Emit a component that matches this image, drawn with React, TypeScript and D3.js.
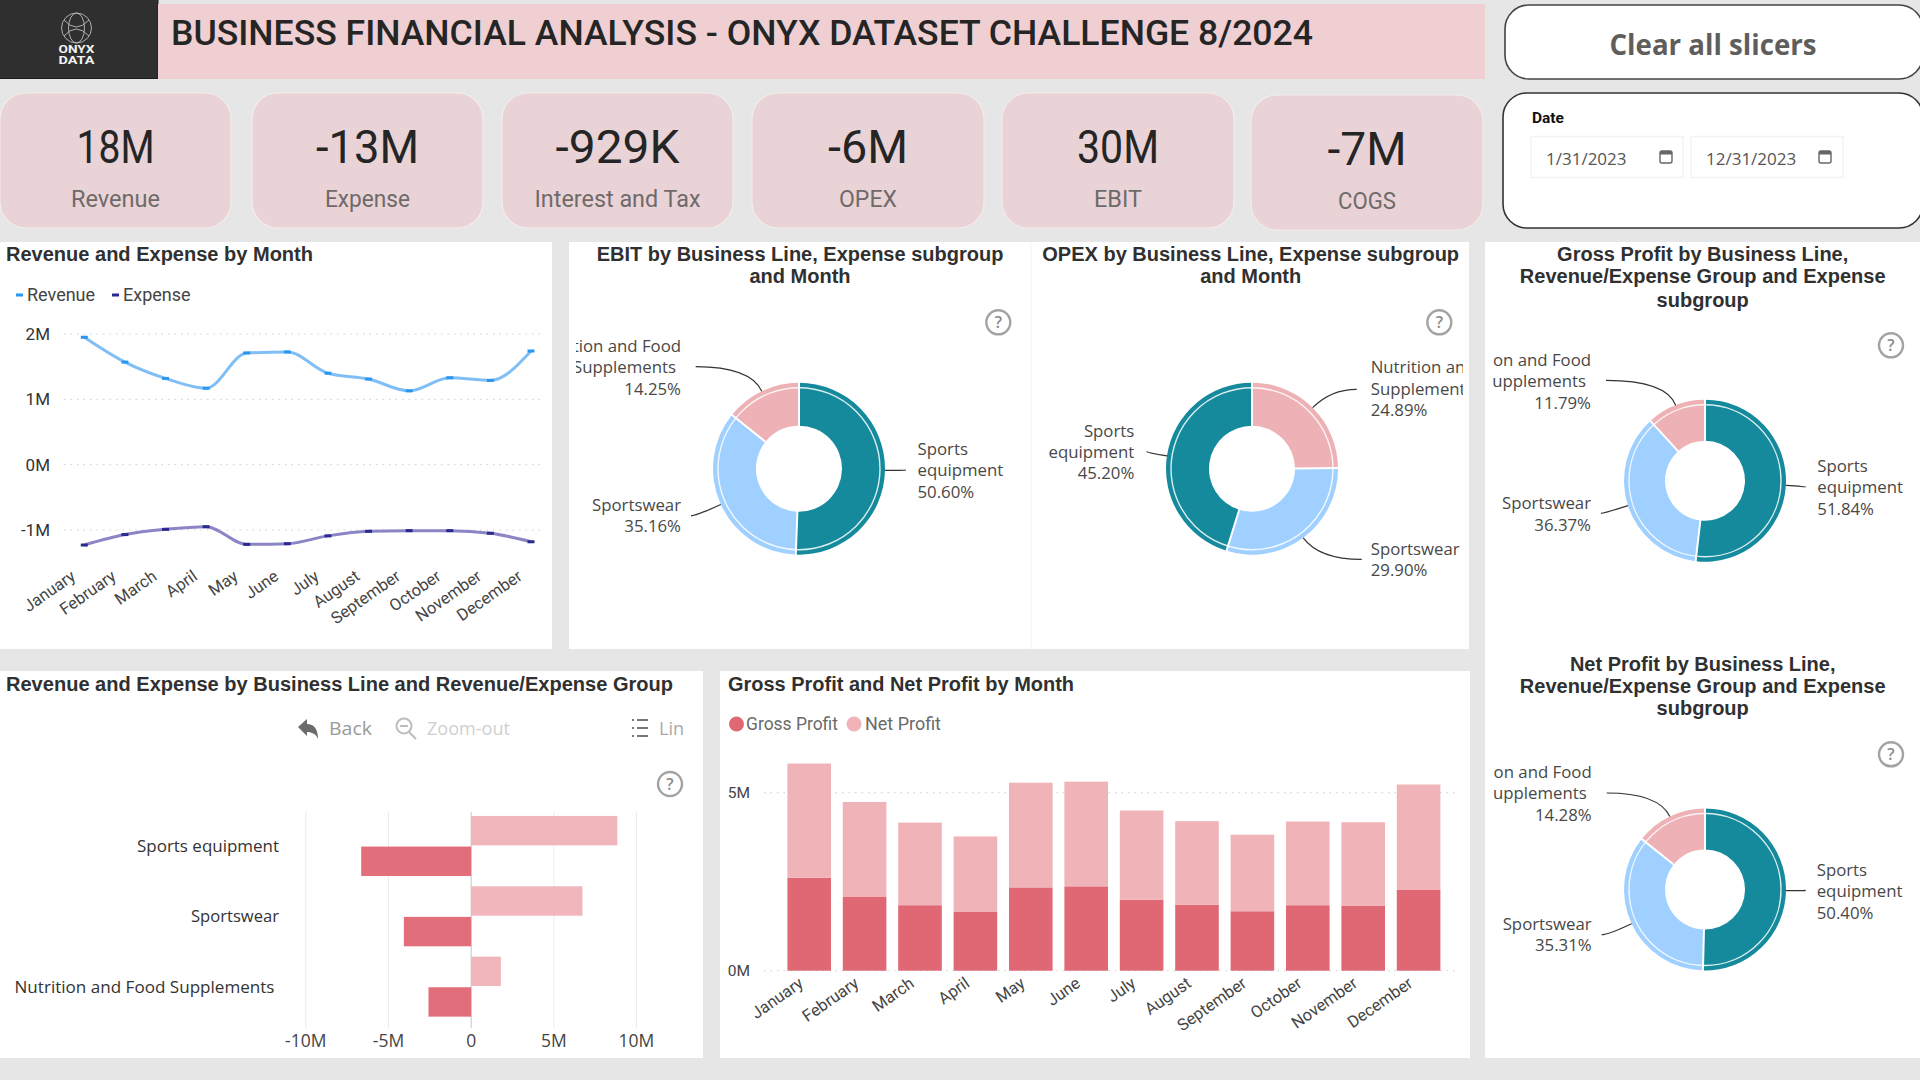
import React from "react";
import * as d3 from "d3";

const months = ["January","February","March","April","May","June","July","August","September","October","November","December"];
const revenueByMonth = [1.95,1.57,1.32,1.17,1.71,1.725,1.40,1.31,1.13,1.33,1.29,1.74];
const expenseByMonth = [-1.23,-1.07,-0.99,-0.95,-1.22,-1.21,-1.09,-1.02,-1.01,-1.01,-1.05,-1.18];
const lineTicks = [2,1,0,-1];

const grossByMonth = [2.61,2.07,1.84,1.65,2.34,2.37,1.99,1.85,1.67,1.84,1.82,2.28];
const netByMonth = [3.21,2.67,2.32,2.12,2.94,2.94,2.51,2.35,2.15,2.35,2.35,2.95];
const profitTicks = [0,5];

const businessLines = ["Sports equipment","Sportswear","Nutrition and Food Supplements"];
const revenueByLine = [8.84,6.73,1.80];
const expenseByLine = [-6.65,-4.07,-2.58];
const lineBarTicks = [-10,-5,0,5,10];
const lineBarTickLabels = ["-10M","-5M","0","5M","10M"];

const ebitShares = [50.60,35.16,14.25];
const opexShares = [24.89,29.90,45.20];
const grossShares = [51.84,36.37,11.79];
const netShares = [50.40,35.31,14.28];

const kpiValues = ["18M","-13M","-929K","-6M","30M","-7M"];
const kpiLabels = ["Revenue","Expense","Interest and Tax","OPEX","EBIT","COGS"];

const TEAL = "#148a9c", BLUE = "#a0d0ff", PINK = "#edb1b6", RED = "#e06875", LPINK = "#efb3b8";
const DIN = "Roboto, sans-serif";
const SEGOE = "'Open Sans', sans-serif";
const ARIAL = "'Liberation Sans', Arial, sans-serif";
const lineColor: Record<string,string> = {"Sports equipment":TEAL,"Sportswear":BLUE,"Nutrition and Food Supplements":PINK};
const wrapped: Record<string,string[]> = {"Sports equipment":["Sports","equipment"],"Sportswear":["Sportswear"],"Nutrition and Food Supplements":["Nutrition and Food","Supplements"]};

function T({x,y,text,size=17,family=SEGOE,weight=400,fill="#444",anchor="start",len,rotate}:any){
  const extra:any = len ? {textLength:len,lengthAdjust:"spacingAndGlyphs"} : {};
  return <text x={x} y={y} dy=".35em" fontSize={size} fontFamily={family} fontWeight={weight} fill={fill} textAnchor={anchor}
    transform={rotate?`rotate(${rotate} ${x} ${y})`:undefined} {...extra}>{text}</text>;
}

function Help({x,y}:any){
  return <g><circle cx={x} cy={y} r={12} fill="none" stroke="#a3a3a3" strokeWidth={2.4}/>
    <T x={x} y={y} text="?" size={16} family={SEGOE} weight={600} fill="#8a8a8a" anchor="middle"/></g>;
}

function Donut({id,title,titleX,titleYs,shares,order,cx,cy,R,r,clip,labels,help}:any){
  const pie = d3.pie<number>().sort(null).value((d:number)=>d);
  const arcs = pie(shares);
  const arc = d3.arc<any>().innerRadius(r).outerRadius(R);
  return <g>
    {title.map((t:string,i:number)=><T key={t} x={titleX} y={titleYs[i]} text={t} size={20} family={ARIAL} weight={700} fill="#303030" anchor="middle"/>)}
    <Help x={help[0]} y={help[1]}/>
    <g transform={`translate(${cx},${cy})`}>
      {arcs.map((a:any,i:number)=><path key={i} d={arc(a)||""} fill={lineColor[order[i]]}/>)}
      <circle r={R-5} fill="none" stroke="#fff" strokeOpacity={0.85} strokeWidth={1.4}/>
      {arcs.map((a:any,i:number)=>{const p=d3.pointRadial(a.startAngle,R+1);const q=d3.pointRadial(a.startAngle,r-1);
        return <line key={i} x1={q[0]} y1={q[1]} x2={p[0]} y2={p[1]} stroke="#fff" strokeWidth={2}/>;})}
    </g>
    <clipPath id={id}><rect x={clip[0]} y={clip[1]} width={clip[2]} height={clip[3]}/></clipPath>
    <g clipPath={`url(#${id})`}>
      {arcs.map((a:any,i:number)=>{
        const L = labels[i];
        const name = order[i];
        const textLines = [...wrapped[name], shares[i].toFixed(2)+"%"];
        const mid = (a.startAngle+a.endAngle)/2;
        const [ux,uy] = d3.pointRadial(mid,1);
        const ex = cx+ux*R, ey = cy+uy*R;
        const t = Math.min(Math.abs(uy)>0.001?Math.abs((L.sy-ey)/uy):0, Math.abs(L.sx-ex));
        const p = d3.path(); p.moveTo(L.sx,L.sy); p.quadraticCurveTo(ex+ux*t,ey+uy*t,ex,ey);
        return <g key={i}>
          <path d={p.toString()} fill="none" stroke="#333" strokeWidth={1.2}/>
          {textLines.map((s:string,j:number)=><T key={j} x={L.x-(L.anchor==="end"&&s==="Supplements"?5:0)} y={L.y+j*21.4} text={s} size={16.8} anchor={L.anchor} fill="#484848"/>)}
        </g>;
      })}
    </g>
  </g>;
}

export default function App(){
  const W=1920,H=1080;
  const cards=[[0,93,231,135],[252,93,231,135],[502,93,231,135],[752,93,232,135],[1002,93,232,135],[1251,95,232,135]];
  const kpiLens=[78,103,124,80,82,79];
  const kpiLabelLens=[89,85,166,58,48,58];
  const xL=d3.scalePoint<string>().domain(months).range([84.3,531]);
  const yL=d3.scaleLinear().domain([-1,2]).range([530,334]);
  const lineGen=d3.line<number>().x((_,i)=>xL(months[i]) as number).y(d=>yL(d)).curve(d3.curveMonotoneX);
  const xB=d3.scaleLinear().domain([-10,10]).range([305.8,636.5]);
  const yB=d3.scaleBand<string>().domain(businessLines).range([811,1021.6]).paddingInner(.112).paddingOuter(.053);
  const yBi=d3.scaleBand<string>().domain(["Revenue","Expense"]).range([0,yB.bandwidth()]).padding(.04);
  const xS=d3.scaleBand<string>().domain(months).range([781.5,1446.3]).paddingInner(.213).paddingOuter(.1065);
  const yS=d3.scaleLinear().domain([0,5]).range([970.7,792.7]);
  const stackRows=months.map((m,i)=>({m,gross:grossByMonth[i],net:netByMonth[i]}));
  const stacked=d3.stack<any>().keys(["gross","net"])(stackRows);
  const stackColor:Record<string,string>={gross:RED,net:LPINK};

  const [SE,SW,NF]=businessLines;
  const donuts=[
   {id:"c1",title:["EBIT by Business Line, Expense subgroup","and Month"],titleX:800,titleYs:[254,276],shares:ebitShares,order:[SE,SW,NF],cx:799,cy:468.7,R:86,r:43,clip:[576,300,460,340],help:[998.3,322.3],
    labels:[{x:917.5,y:449,anchor:"start",sx:906,sy:470},{x:681,y:505,anchor:"end",sx:691,sy:515.7},{x:681,y:346,anchor:"end",sx:695.7,sy:366.7}]},
   {id:"c2",title:["OPEX by Business Line, Expense subgroup","and Month"],titleX:1250.7,titleYs:[254,276],shares:opexShares,order:[NF,SW,SE],cx:1252,cy:468.7,R:86,r:43,clip:[1040,300,423,340],help:[1439.3,322.3],
    labels:[{x:1370.7,y:367.3,anchor:"start",sx:1356.7,sy:389.3},{x:1370.7,y:548.7,anchor:"start",sx:1361.7,sy:559.3},{x:1134.3,y:430.7,anchor:"end",sx:1146.7,sy:451.3}]},
   {id:"c3",title:["Gross Profit by Business Line,","Revenue/Expense Group and Expense","subgroup"],titleX:1702.7,titleYs:[254,276,300],shares:grossShares,order:[SE,SW,NF],cx:1705,cy:480.7,R:81,r:40,clip:[1493,330,420,300],help:[1891,345.3],
    labels:[{x:1817.3,y:466,anchor:"start",sx:1806,sy:487},{x:1591,y:503.3,anchor:"end",sx:1601,sy:513.3},{x:1591,y:360,anchor:"end",sx:1606,sy:380.3}]},
   {id:"c4",title:["Net Profit by Business Line,","Revenue/Expense Group and Expense","subgroup"],titleX:1702.7,titleYs:[663.7,686,708],shares:netShares,order:[SE,SW,NF],cx:1705,cy:889.5,R:81,r:40,clip:[1493,740,420,300],help:[1891,754.3],
    labels:[{x:1816.7,y:870,anchor:"start",sx:1805.7,sy:890.3},{x:1591.7,y:924,anchor:"end",sx:1601.7,sy:934.7},{x:1591.7,y:772,anchor:"end",sx:1606.7,sy:793}]},
  ];

  return <svg width={W} height={H} viewBox={`0 0 ${W} ${H}`} style={{position:"fixed",left:0,top:0,display:"block"}}>
    <rect width={W} height={H} fill="#e6e6e6"/>
    <rect x={0} y={0} width={158} height={79} fill="#2f2f2f"/>
    <path d="M0 78.5H158V0" fill="none" stroke="#1c1c1c" strokeWidth={1}/>
    <g fill="none" stroke="#bdbdbd" strokeWidth={0.9}>
      <circle cx={76.5} cy={28} r={15}/>
      <ellipse cx={76.5} cy={28} rx={8} ry={15}/>
      <path d="M64 20Q76 34 89 20M64 36Q76 22 89 36"/>
    </g>
    <T x={76.5} y={49.5} text="ONYX" size={10.5} family={DIN} weight={700} fill="#f2f2f2" anchor="middle" len={36}/>
    <T x={76.5} y={60.5} text="DATA" size={10.5} family={DIN} weight={700} fill="#f2f2f2" anchor="middle" len={36}/>
    <rect x={158} y={4} width={1327} height={75} fill="#efcfd2"/>
    <T x={171} y={33} text="BUSINESS FINANCIAL ANALYSIS - ONYX DATASET CHALLENGE 8/2024" size={35} family={DIN} weight={500} fill="#252525" len={1142}/>
    <rect x={1505} y={5} width={418} height={74} rx={24} fill="#fff" stroke="#444" strokeWidth={1.6}/>
    <T x={1713} y={45} text="Clear all slicers" size={28} family={SEGOE} weight={700} fill="#605e5c" anchor="middle" len={207}/>
    <rect x={1503} y={93} width={420} height={135} rx={24} fill="#fff" stroke="#333" strokeWidth={1.6}/>
    <T x={1532} y={118} text="Date" size={15.5} family={DIN} weight={700} fill="#111"/>
    {[[1531,"1/31/2023",1546,1666],[1691,"12/31/2023",1706,1825]].map((d:any)=><g key={d[0]}>
      <rect x={d[0]} y={136.5} width={152} height={41} fill="#fff" stroke="#f3f3f3" strokeWidth={1.5}/>
      <T x={d[2]} y={159} text={d[1]} size={17} fill="#555"/>
      <rect x={d[3]-6} y={151} width={12} height={12} rx={2} fill="#fff" stroke="#666" strokeWidth={1.4}/>
      <rect x={d[3]-6} y={151} width={12} height={3.5} fill="#666"/>
    </g>)}
    {cards.map((c,i)=><g key={i}>
      <rect x={c[0]} y={c[1]} width={c[2]} height={c[3]} rx={26} fill="#e9d3d6" stroke="#f4ecec" strokeWidth={1.2}/>
      <T x={c[0]+c[2]/2} y={c[1]+54} text={kpiValues[i]} size={46} family={DIN} fill="#252525" anchor="middle" len={kpiLens[i]}/>
      <T x={c[0]+c[2]/2} y={c[1]+106} text={kpiLabels[i]} size={23} family={DIN} fill="#6f6a6a" anchor="middle" len={kpiLabelLens[i]}/>
    </g>)}
    <rect x={0} y={242} width={552} height={407} fill="#fff"/>
    <rect x={569} y={242} width={900} height={407} fill="#fff"/>
    <line x1={1031} x2={1031} y1={242} y2={649} stroke="#f3f3f3"/>
    <rect x={1485} y={242} width={435} height={816} fill="#fff"/>
    <rect x={0} y={671} width={703} height={387} fill="#fff"/>
    <rect x={720} y={671} width={750} height={387} fill="#fff"/>

    <T x={6} y={254} text="Revenue and Expense by Month" size={20} family={ARIAL} weight={700} fill="#303030" len={307}/>
    <rect x={16} y={293.5} width={7} height={3} fill="#2a97ee"/>
    <T x={27} y={295} text="Revenue" size={18} family={DIN} fill="#444"/>
    <rect x={112} y={293.5} width={7} height={3} fill="#2a2a90"/>
    <T x={123} y={295} text="Expense" size={18} family={DIN} fill="#444"/>
    {lineTicks.map(t=><g key={t}>
      <line x1={64} x2={540} y1={yL(t)} y2={yL(t)} stroke="#cfcfcf" strokeDasharray="1.5 5"/>
      <T x={50} y={yL(t)} text={`${t}M`} size={17} family={DIN} fill="#333" anchor="end"/>
    </g>)}
    <path d={lineGen(revenueByMonth)||""} fill="none" stroke="#80bff6" strokeWidth={3}/>
    <path d={lineGen(expenseByMonth)||""} fill="none" stroke="#8b85c5" strokeWidth={3}/>
    {revenueByMonth.map((v,i)=><rect key={i} x={(xL(months[i]) as number)-3.5} y={yL(v)-1.5} width={7} height={3} fill="#2a97ee"/>)}
    {expenseByMonth.map((v,i)=><rect key={i} x={(xL(months[i]) as number)-3.5} y={yL(v)-1.5} width={7} height={3} fill="#2a2a90"/>)}
    {months.map(m=><T key={m} x={(xL(m) as number)-11} y={574} text={m} size={16.5} family={DIN} fill="#444" anchor="end" rotate={-35}/>)}

    {donuts.map(d=><Donut key={d.id} {...d}/>)}

    <T x={6} y={684} text="Revenue and Expense by Business Line and Revenue/Expense Group" size={19.6} family={ARIAL} weight={700} fill="#303030" len={667}/>
    <path d="M298 727l9-8v5c7 0 11 5 11 15-2-5-6-7-11-7v4z" fill="#6b6b6b"/>
    <T x={329} y={728} text="Back" size={19} family={SEGOE} fill="#9a9a9a" len={43}/>
    <circle cx={404} cy={726} r={7.5} fill="none" stroke="#bdbdbd" strokeWidth={2}/>
    <path d="M400 726h8M409 732l7 7" stroke="#bdbdbd" strokeWidth={2}/>
    <T x={427} y={728} text="Zoom-out" size={19} family={SEGOE} fill="#cfcfcf" len={83}/>
    <path d="M632 720h2M632 728h2M632 736h2M637 720h11M637 728h11M637 736h11" stroke="#777" strokeWidth={1.8}/>
    <T x={659} y={728} text="Lin" size={19} family={SEGOE} fill="#a8a8a8" len={25}/>
    <Help x={670} y={784}/>
    {lineBarTicks.map((t,i)=><g key={t}>
      <line x1={xB(t)} x2={xB(t)} y1={812} y2={1028} stroke={t===0?"#c4c4c4":"#ececec"}/>
      <T x={xB(t)} y={1041} text={lineBarTickLabels[i]} size={17.5} anchor="middle" fill="#444"/>
    </g>)}
    {businessLines.map((b,i)=><g key={b}>
      <rect x={xB(0)} y={(yB(b) as number)+(yBi("Revenue") as number)} width={xB(revenueByLine[i])-xB(0)} height={yBi.bandwidth()} fill={LPINK} fillOpacity={.96}/>
      <rect x={xB(expenseByLine[i])} y={(yB(b) as number)+(yBi("Expense") as number)} width={xB(0)-xB(expenseByLine[i])} height={yBi.bandwidth()} fill={RED} fillOpacity={.96}/>
      <T x={i===2?274.5:279} y={(yB(b) as number)+yB.bandwidth()/2} text={b} size={17} anchor="end" fill="#333" len={[142,88,260][i]}/>
    </g>)}

    <T x={728} y={684} text="Gross Profit and Net Profit by Month" size={19.6} family={ARIAL} weight={700} fill="#303030" len={346}/>
    <circle cx={736.5} cy={724} r={7.5} fill={RED}/>
    <T x={746} y={724} text="Gross Profit" size={17.5} family={DIN} fill="#6a6a6a" len={92}/>
    <circle cx={854} cy={724} r={7.5} fill={LPINK}/>
    <T x={865} y={724} text="Net Profit" size={17.5} family={DIN} fill="#6a6a6a" len={76}/>
    {profitTicks.map(t=><g key={t}>
      <line x1={764} x2={1459} y1={yS(t)} y2={yS(t)} stroke="#cfcfcf" strokeDasharray="1.5 5"/>
      <T x={750} y={yS(t)} text={`${t}M`} size={15.5} family={DIN} fill="#444" anchor="end"/>
    </g>)}
    {stacked.map(s=><g key={s.key} fill={stackColor[s.key]}>
      {s.map((d:any)=><rect key={d.data.m} x={xS(d.data.m)} y={yS(d[1])} width={xS.bandwidth()} height={yS(d[0])-yS(d[1])}/>)}
    </g>)}
    {months.map(m=><T key={m} x={(xS(m) as number)+xS.bandwidth()/2-8} y={981} text={m} size={16.5} family={DIN} fill="#444" anchor="end" rotate={-35}/>)}
  </svg>;
}
